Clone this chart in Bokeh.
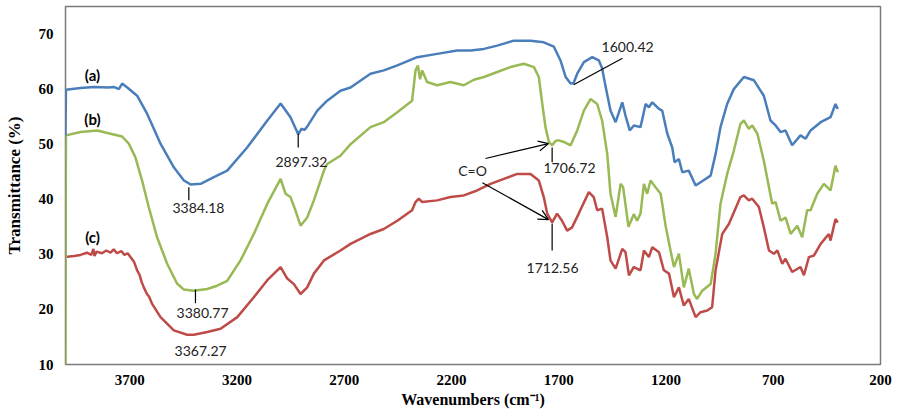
from bokeh.plotting import figure
from bokeh.models import Range1d, FixedTicker, ColumnDataSource, Arrow, OpenHead
from bokeh.core.properties import value
from bokeh.embed import file_html
from bokeh.resources import INLINE

# ---- data ----
wn_a = [4000, 3998, 3930, 3868, 3800, 3775, 3751, 3736, 3712, 3666, 3619, 3557, 3495, 3448, 3417, 3370,
        3308, 3246, 3153, 3059, 2997, 2951, 2915, 2900, 2885, 2873, 2826, 2780, 2718, 2671, 2578, 2516,
        2453, 2360, 2267, 2174, 2112, 2049, 1987, 1910, 1832, 1770, 1723, 1692, 1668, 1645, 1631, 1614,
        1583, 1544, 1513, 1498, 1482, 1459, 1435, 1404, 1389, 1369, 1350, 1319, 1295, 1280, 1264, 1233,
        1218, 1194, 1171, 1160, 1140, 1124, 1094, 1062, 1039, 992, 969, 946, 915, 884, 837, 790, 744,
        713, 689, 666, 643, 612, 573, 549, 526, 479, 433, 410, 399]
t_a = [51.6, 59.9, 60.2, 60.4, 60.3, 60.4, 60.0, 61.0, 60.3, 58.8, 55.5, 50.1, 45.8, 43.4, 42.7, 42.8,
       44.0, 45.2, 49.4, 54.3, 57.4, 54.9, 51.8, 52.8, 52.6, 53.2, 56.1, 57.9, 59.7, 60.3, 62.8, 63.4,
       64.3, 65.8, 66.4, 67.0, 67.0, 67.3, 67.9, 68.8, 68.8, 68.5, 67.7, 65.2, 62.2, 61.0, 61.1, 62.8,
       64.9, 65.8, 65.2, 63.8, 60.5, 56.1, 54.0, 57.6, 55.2, 52.5, 53.4, 53.1, 57.3, 56.7, 57.6, 56.4,
       56.1, 51.9, 49.4, 46.7, 47.3, 44.9, 45.2, 42.5, 43.1, 44.3, 48.2, 53.1, 57.3, 60.0, 62.2, 61.6, 58.8,
       54.3, 53.4, 52.2, 52.5, 49.8, 51.6, 51.0, 52.5, 54.0, 54.9, 57.3, 56.4]

wn_b = [4000, 3998, 3930, 3852, 3790, 3736, 3705, 3674, 3643, 3612, 3573, 3526, 3480, 3448, 3402, 3339,
        3293, 3246, 3184, 3122, 3059, 2997, 2974, 2951, 2928, 2904, 2873, 2842, 2795, 2780, 2718, 2671,
        2578, 2516, 2453, 2384, 2368, 2357, 2347, 2337, 2314, 2267, 2205, 2143, 2096, 2049, 1987, 1925,
        1863, 1816, 1793, 1777, 1762, 1746, 1731, 1715, 1700, 1676, 1645, 1614, 1583, 1552, 1521, 1498,
        1474, 1459, 1435, 1412, 1400, 1375, 1350, 1335, 1319, 1303, 1288, 1272, 1249, 1225, 1202, 1179,
        1163, 1140, 1117, 1094, 1070, 1055, 1031, 992, 969, 946, 915, 884, 853, 837, 814, 798, 774, 744,
        720, 705, 689, 666, 643, 619, 588, 565, 542, 526, 495, 464, 433, 410, 399]
t_b = [10.0, 51.6, 52.2, 52.5, 51.9, 51.4, 50.1, 47.6, 43.4, 38.6, 33.1, 28.3, 24.7, 23.6, 23.4, 23.7,
       24.3, 25.2, 28.9, 33.7, 39.2, 43.7, 41.0, 40.4, 38.0, 35.2, 36.7, 39.8, 45.2, 46.4, 47.9, 50.0,
       53.1, 54.0, 55.8, 57.9, 63.4, 64.3, 61.8, 63.4, 61.3, 60.7, 61.3, 60.7, 61.7, 62.2, 63.1, 64.0,
       64.6, 64.0, 62.2, 57.3, 53.1, 50.4, 49.8, 50.6, 50.7, 50.4, 49.8, 52.5, 56.1, 58.2, 57.3, 54.3,
       48.2, 41.0, 36.8, 42.8, 42.2, 35.0, 37.3, 36.1, 37.4, 42.8, 41.0, 43.4, 42.2, 41.0, 35.2, 30.7,
       27.7, 30.1, 24.0, 27.4, 22.8, 21.9, 23.4, 24.6, 30.1, 39.2, 44.6, 48.8, 53.7, 54.3, 52.8, 53.4, 51.9, 47.0,
       42.2, 39.2, 39.5, 36.1, 36.7, 33.7, 35.2, 33.1, 38.0, 38.0, 41.0, 42.8, 41.6, 46.1, 44.9]

wn_c = [4000, 3960, 3930, 3900, 3880, 3870, 3865, 3855, 3830, 3810, 3790, 3775, 3760, 3740, 3725, 3710,
        3697, 3680, 3666, 3655, 3645, 3635, 3620, 3610, 3596, 3557, 3495, 3433, 3402, 3339, 3277, 3199,
        3122, 3059, 2997, 2966, 2935, 2904, 2873, 2842, 2795, 2718, 2671, 2578, 2516, 2453, 2384, 2368,
        2353, 2337, 2267, 2205, 2143, 2081, 2018, 1956, 1894, 1832, 1793, 1770, 1754, 1731, 1708, 1685,
        1661, 1638, 1607, 1560, 1537, 1521, 1498, 1474, 1459, 1435, 1404, 1389, 1373, 1350, 1319, 1303,
        1280, 1264, 1233, 1210, 1186, 1163, 1140, 1117, 1094, 1062, 1039, 1008, 985, 969, 938, 907, 884,
        853, 837, 814, 798, 767, 744, 720, 697, 681, 658, 643, 612, 573, 557, 534, 510, 479, 441, 433, 410, 399]
t_c = [29.5, 29.7, 29.9, 30.3, 29.9, 31.0, 29.7, 30.5, 30.2, 30.7, 30.3, 30.9, 30.2, 30.6, 29.9, 30.2,
       29.5, 28.6, 27.1, 26.3, 25.0, 24.0, 22.8, 22.3, 21.0, 18.6, 16.2, 15.4, 15.4, 15.9, 16.5, 18.6,
       22.2, 25.3, 27.7, 25.6, 24.6, 22.8, 24.0, 26.5, 28.9, 30.7, 31.9, 33.7, 34.6, 36.1, 38.0, 39.5,
       40.1, 39.5, 39.8, 40.4, 40.7, 41.6, 42.8, 43.7, 44.6, 44.6, 43.4, 40.4, 37.4, 35.8, 37.4, 36.1,
       34.3, 34.9, 37.4, 41.3, 40.4, 38.0, 38.3, 33.1, 28.9, 27.4, 31.0, 30.4, 26.2, 27.7, 27.1, 30.7,
       29.5, 31.3, 30.4, 27.1, 26.5, 22.2, 24.0, 20.7, 21.9, 18.6, 19.5, 19.8, 20.4, 27.1, 33.7, 35.5, 37.6,
       40.4, 40.7, 39.8, 40.1, 38.6, 34.9, 30.7, 30.1, 30.7, 28.3, 29.2, 26.8, 27.7, 26.2, 29.5, 29.8, 31.9, 33.7, 32.5, 36.4, 35.8]

x_ticks = [3700, 3200, 2700, 2200, 1700, 1200, 700, 200]
y_ticks = [10, 20, 30, 40, 50, 60, 70]

series_labels = ["(a)", "(b)", "(c)"]
series_label_x = [3874, 3874, 3874]
series_label_y = [62.5, 54.5, 33.1]

peak_text = ["3384.18", "2897.32", "3380.77", "3367.27", "1600.42", "C=O", "1706.72", "1712.56"]
peak_text_x = [3380, 2900, 3361, 3370, 1379, 2102, 1650, 1729]
peak_text_y = [38.5, 46.7, 19.3, 12.4, 67.6, 45.2, 45.6, 27.6]

# leader lines (x0, y0, x1, y1)
lead_x0 = [3425, 2915, 3394, 1731, 1731, 1631]
lead_y0 = [42.2, 51.9, 23.6, 49.4, 35.6, 60.8]
lead_x1 = [3425, 2915, 3394, 1731, 1731, 1403]
lead_y1 = [39.8, 49.4, 21.1, 46.7, 30.7, 65.6]

# C=O arrows
arr_x0 = [2042, 2056]
arr_y0 = [47.4, 43.0]
arr_x1 = [1748, 1748]
arr_y1 = [50.1, 36.3]

BLUE = "#4a7ebb"
GREEN = "#98b954"
RED = "#be4b48"

p = figure(width=899, height=412, output_backend="svg", toolbar_location=None,
           x_range=Range1d(4000, 200), y_range=Range1d(10, 75),
           min_border_left=65, min_border_right=19, min_border_top=6, min_border_bottom=48)
p.grid.visible = False
p.background_fill_color = "white"
p.border_fill_color = "white"
p.outline_line_color = "#7a7a7a"
p.outline_line_width = 1.5

p.line(wn_c, t_c, line_color=RED, line_width=2.5)
p.line(wn_b, t_b, line_color=GREEN, line_width=2.5)
p.line(wn_a, t_a, line_color=BLUE, line_width=2.5)

for ax in (p.xaxis[0], p.yaxis[0]):
    ax.axis_line_color = None
    ax.major_tick_line_color = None
    ax.minor_tick_line_color = None
    ax.major_tick_in = 0
    ax.major_tick_out = 0
    ax.minor_tick_in = 0
    ax.minor_tick_out = 0
    ax.major_label_text_font = "Liberation Serif"
    ax.major_label_text_font_style = "bold"
    ax.major_label_text_font_size = "15px"
    ax.major_label_text_color = "#000000"
    ax.axis_label_text_font = "Liberation Serif"
    ax.axis_label_text_font_style = "bold"
    ax.axis_label_text_color = "#000000"

p.xaxis.ticker = FixedTicker(ticks=x_ticks)
p.yaxis.ticker = FixedTicker(ticks=y_ticks)
p.xaxis.axis_label = "Wavenumbers (cm\u207b\u00b9)"
p.yaxis.axis_label = "Transmittance (%)"
p.xaxis.axis_label_text_font_size = "16px"
p.yaxis.axis_label_text_font_size = "17px"
p.xaxis.major_label_standoff = 10
p.yaxis.major_label_standoff = 12
p.xaxis.axis_label_standoff = 3
p.yaxis.axis_label_standoff = 12

p.text(x=series_label_x, y=series_label_y, text=series_labels, text_font=value("Lato"),
       text_font_style="bold", text_font_size="15px", text_align="center", text_baseline="middle",
       text_color="#000000")
p.text(x=peak_text_x, y=peak_text_y, text=peak_text, text_font=value("Lato"),
       text_font_size="14px", text_align="center", text_baseline="middle", text_color="#222222")

seg = ColumnDataSource(dict(x0=lead_x0, y0=lead_y0, x1=lead_x1, y1=lead_y1))
p.segment(x0="x0", y0="y0", x1="x1", y1="y1", source=seg, line_color="#000000", line_width=1.2)

for i in range(len(arr_x0)):
    p.add_layout(Arrow(end=OpenHead(size=10, line_color="#000000", line_width=1.2),
                       x_start=arr_x0[i], y_start=arr_y0[i], x_end=arr_x1[i], y_end=arr_y1[i],
                       line_color="#000000", line_width=1.2))

open("out.html", "w").write(file_html(p, INLINE))
